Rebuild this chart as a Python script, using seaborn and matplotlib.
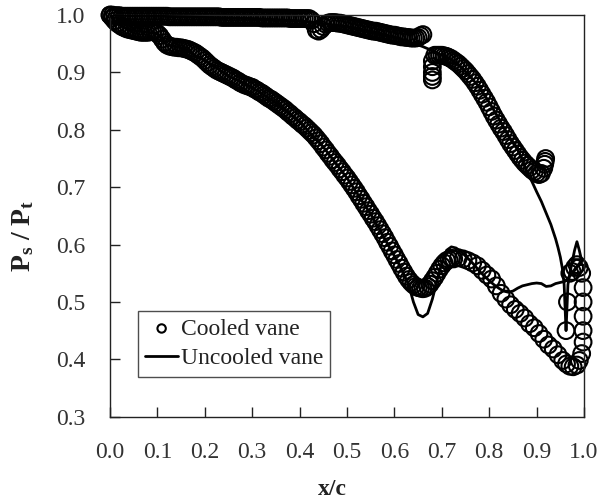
import matplotlib
matplotlib.use("Agg")
import matplotlib.pyplot as plt
import seaborn as sns
import pandas as pd

# ---------------- data ----------------
# Cooled vane, suction side (lower curve)
cooled_ss_x = [0.000, 0.005, 0.010, 0.015, 0.020, 0.025, 0.030, 0.035, 0.040, 0.045,
               0.050, 0.055, 0.060, 0.065, 0.070, 0.075, 0.080, 0.085, 0.090, 0.095,
               0.100, 0.105, 0.110, 0.115, 0.120, 0.125, 0.130, 0.135, 0.140, 0.145,
               0.150, 0.155, 0.160, 0.165, 0.170, 0.175, 0.180, 0.185, 0.190, 0.195,
               0.200, 0.205, 0.210, 0.215, 0.220, 0.225, 0.230, 0.235, 0.240, 0.245,
               0.250, 0.255, 0.260, 0.265, 0.270, 0.275, 0.280, 0.285, 0.290, 0.295,
               0.300, 0.305, 0.310, 0.315, 0.320, 0.325, 0.330, 0.335, 0.340, 0.345,
               0.350, 0.355, 0.360, 0.365, 0.370, 0.375, 0.380, 0.385, 0.390, 0.395,
               0.400, 0.405, 0.410, 0.415, 0.420, 0.425, 0.430, 0.435, 0.440, 0.445,
               0.450, 0.455, 0.460, 0.465, 0.470, 0.475, 0.480, 0.485, 0.490, 0.495,
               0.500, 0.505, 0.510, 0.515, 0.520, 0.525, 0.530, 0.535, 0.540, 0.545,
               0.550, 0.555, 0.560, 0.565, 0.570, 0.575, 0.580, 0.585, 0.590, 0.595,
               0.600, 0.605, 0.610, 0.615, 0.620, 0.625, 0.630, 0.635, 0.640, 0.645,
               0.650, 0.655, 0.660, 0.665, 0.670, 0.675, 0.680, 0.685, 0.690, 0.695,
               0.700, 0.705, 0.710, 0.715, 0.720,
               0.725, 0.735, 0.745, 0.755, 0.765, 0.775, 0.785, 0.795, 0.805, 0.815,
               0.825, 0.835, 0.845, 0.855, 0.865, 0.875, 0.885, 0.895, 0.905, 0.915,
               0.925, 0.935, 0.945, 0.955, 0.963, 0.970, 0.977, 0.985, 0.990, 0.995,
               0.998, 0.998, 0.998, 0.998, 0.998, 0.995, 0.990, 0.985, 0.980, 0.975,
               0.970, 0.965, 0.962]
cooled_ss_y = [1.000, 0.995, 0.990, 0.986, 0.983, 0.980, 0.978, 0.976, 0.975, 0.974,
               0.973, 0.972, 0.971, 0.970, 0.970, 0.970, 0.970, 0.971, 0.971, 0.970,
               0.968, 0.964, 0.958, 0.952, 0.948, 0.946, 0.945, 0.944, 0.944, 0.943,
               0.943, 0.942, 0.941, 0.940, 0.938, 0.936, 0.934, 0.931, 0.928, 0.925,
               0.921, 0.917, 0.913, 0.910, 0.907, 0.904, 0.902, 0.900, 0.898, 0.896,
               0.894, 0.892, 0.890, 0.887, 0.885, 0.882, 0.880, 0.878, 0.877, 0.875,
               0.874, 0.871, 0.869, 0.866, 0.864, 0.861, 0.858, 0.855, 0.853, 0.850,
               0.847, 0.844, 0.841, 0.838, 0.835, 0.831, 0.828, 0.824, 0.821, 0.817,
               0.814, 0.810, 0.807, 0.803, 0.799, 0.795, 0.791, 0.786, 0.781, 0.776,
               0.770, 0.765, 0.759, 0.754, 0.748, 0.743, 0.738, 0.732, 0.727, 0.721,
               0.716, 0.710, 0.704, 0.698, 0.692, 0.685, 0.679, 0.672, 0.666, 0.659,
               0.653, 0.646, 0.640, 0.633, 0.626, 0.619, 0.612, 0.604, 0.597, 0.589,
               0.582, 0.574, 0.567, 0.559, 0.552, 0.545, 0.539, 0.534, 0.530, 0.527,
               0.525, 0.524, 0.523, 0.524, 0.527, 0.531, 0.537, 0.543, 0.550, 0.557,
               0.563, 0.568, 0.572, 0.574, 0.576,
               0.575, 0.577, 0.575, 0.572, 0.568, 0.563, 0.555, 0.547, 0.540, 0.528,
               0.515, 0.505, 0.495, 0.487, 0.480, 0.472, 0.462, 0.455, 0.445, 0.435,
               0.425, 0.418, 0.408, 0.398, 0.392, 0.388, 0.387, 0.390, 0.398, 0.410,
               0.430, 0.450, 0.475, 0.500, 0.525, 0.550, 0.560, 0.565, 0.560, 0.553,
               0.550, 0.500, 0.450]

# Cooled vane, pressure side (upper curve)
cooled_ps_x = [0.000, 0.005, 0.010, 0.015, 0.020, 0.025, 0.030, 0.035, 0.040, 0.045,
               0.050, 0.055, 0.060, 0.065, 0.070, 0.075, 0.080, 0.085, 0.090, 0.095,
               0.100, 0.105, 0.110, 0.115, 0.120, 0.125, 0.130, 0.135, 0.140, 0.145,
               0.150, 0.155, 0.160, 0.165, 0.170, 0.175, 0.180, 0.185, 0.190, 0.195,
               0.200, 0.205, 0.210, 0.215, 0.220, 0.225, 0.230, 0.235, 0.240, 0.245,
               0.250, 0.255, 0.260, 0.265, 0.270, 0.275, 0.280, 0.285, 0.290, 0.295,
               0.300, 0.305, 0.310, 0.315, 0.320, 0.325, 0.330, 0.335, 0.340, 0.345,
               0.350, 0.355, 0.360, 0.365, 0.370, 0.375, 0.380, 0.385, 0.390, 0.395,
               0.400, 0.405, 0.410, 0.415, 0.420, 0.425, 0.430, 0.435, 0.440, 0.445,
               0.450, 0.455, 0.460, 0.465, 0.470, 0.475, 0.480, 0.485, 0.490, 0.495,
               0.500, 0.505, 0.510, 0.515, 0.520, 0.525, 0.530, 0.535, 0.540, 0.545,
               0.550, 0.555, 0.560, 0.565, 0.570, 0.575, 0.580, 0.585, 0.590, 0.595,
               0.600, 0.605, 0.610, 0.615, 0.620, 0.625, 0.630, 0.635, 0.640, 0.645,
               0.650, 0.655, 0.660,
               0.680, 0.680, 0.680, 0.680, 0.680,
               0.685, 0.690, 0.695, 0.700, 0.705, 0.710, 0.715, 0.720, 0.725, 0.730,
               0.735, 0.740, 0.745, 0.750, 0.755, 0.760, 0.765, 0.770, 0.775, 0.780,
               0.785, 0.790, 0.795, 0.800, 0.805, 0.810, 0.815, 0.820, 0.825, 0.830,
               0.835, 0.840, 0.845, 0.850, 0.855, 0.860, 0.865, 0.870, 0.875, 0.880,
               0.885, 0.890, 0.895, 0.900, 0.905, 0.910, 0.915, 0.917, 0.918, 0.919]
cooled_ps_y = [1.000, 1.000, 0.999, 0.999, 0.999, 0.998, 0.998, 0.998, 0.998, 0.998,
               0.998, 0.998, 0.998, 0.998, 0.998, 0.998, 0.998, 0.998, 0.998, 0.998,
               0.998, 0.998, 0.998, 0.998, 0.998, 0.997, 0.997, 0.997, 0.997, 0.997,
               0.997, 0.997, 0.997, 0.997, 0.997, 0.997, 0.997, 0.997, 0.997, 0.997,
               0.997, 0.997, 0.997, 0.997, 0.997, 0.997, 0.997, 0.996, 0.996, 0.996,
               0.996, 0.996, 0.996, 0.996, 0.996, 0.996, 0.996, 0.996, 0.996, 0.996,
               0.996, 0.996, 0.996, 0.996, 0.995, 0.995, 0.995, 0.995, 0.995, 0.995,
               0.995, 0.995, 0.995, 0.995, 0.995, 0.995, 0.994, 0.994, 0.994, 0.994,
               0.994, 0.994, 0.994, 0.994, 0.994, 0.991, 0.985, 0.974, 0.972, 0.975,
               0.980, 0.984, 0.986, 0.987, 0.987, 0.987, 0.986, 0.986, 0.985, 0.984,
               0.983, 0.982, 0.981, 0.980, 0.979, 0.978, 0.977, 0.976, 0.975, 0.974,
               0.973, 0.972, 0.972, 0.971, 0.970, 0.969, 0.968, 0.967, 0.966, 0.965,
               0.965, 0.964, 0.963, 0.962, 0.962, 0.961, 0.961, 0.960, 0.960, 0.960,
               0.961, 0.964, 0.966,
               0.920, 0.910, 0.900, 0.893, 0.887,
               0.930, 0.930, 0.930, 0.930, 0.929, 0.928, 0.926, 0.924, 0.921, 0.918,
               0.915, 0.911, 0.907, 0.903, 0.898, 0.893, 0.888, 0.882, 0.876, 0.869,
               0.862, 0.855, 0.848, 0.840, 0.832, 0.824, 0.817, 0.810, 0.803, 0.797,
               0.790, 0.783, 0.776, 0.770, 0.764, 0.758, 0.752, 0.747, 0.742, 0.738,
               0.734, 0.730, 0.727, 0.724, 0.722, 0.724, 0.733, 0.740, 0.745, 0.750]

# Uncooled vane, pressure side (upper branch)
uncooled_ps_x = [0.000, 0.100, 0.200, 0.300, 0.400, 0.500, 0.550, 0.600, 0.650, 0.660,
                 0.680, 0.700, 0.720, 0.740, 0.760, 0.780, 0.800, 0.820, 0.840, 0.860,
                 0.870, 0.880, 0.890, 0.900, 0.910, 0.920, 0.930, 0.940, 0.945, 0.950,
                 0.955, 0.958, 0.960, 0.962, 0.964, 0.966, 0.970, 0.975, 0.980, 0.985,
                 0.990, 0.995]
uncooled_ps_y = [1.000, 0.998, 0.996, 0.994, 0.990, 0.980, 0.972, 0.962, 0.948, 0.945,
                 0.938, 0.930, 0.922, 0.910, 0.893, 0.873, 0.848, 0.820, 0.790, 0.765,
                 0.748, 0.725, 0.710, 0.692, 0.675, 0.655, 0.635, 0.610, 0.595, 0.578,
                 0.555, 0.530, 0.490, 0.450, 0.490, 0.530, 0.550, 0.570, 0.590, 0.605,
                 0.590, 0.572]

# Uncooled vane, suction side (lower branch)
uncooled_ss_x = [0.000, 0.010, 0.030, 0.050, 0.080, 0.100, 0.120, 0.150, 0.200, 0.250,
                 0.300, 0.350, 0.400, 0.450, 0.500, 0.550, 0.600, 0.610, 0.620, 0.630,
                 0.640, 0.650, 0.660, 0.670, 0.680, 0.690, 0.700, 0.710, 0.720, 0.730,
                 0.740, 0.750, 0.760, 0.770, 0.780, 0.790, 0.800, 0.810, 0.820, 0.830,
                 0.840, 0.850, 0.860, 0.870, 0.880, 0.890, 0.900, 0.910, 0.920, 0.930,
                 0.940, 0.950, 0.960, 0.970, 0.980, 0.990, 0.995]
uncooled_ss_y = [1.000, 0.990, 0.978, 0.973, 0.970, 0.968, 0.948, 0.943, 0.921, 0.894,
                 0.874, 0.847, 0.814, 0.770, 0.716, 0.653, 0.580, 0.565, 0.548, 0.530,
                 0.500, 0.478, 0.474, 0.480, 0.505, 0.538, 0.568, 0.590, 0.596, 0.594,
                 0.588, 0.580, 0.572, 0.563, 0.553, 0.545, 0.537, 0.530, 0.524, 0.519,
                 0.517, 0.519, 0.524, 0.528, 0.530, 0.532, 0.533, 0.532, 0.527, 0.528,
                 0.532, 0.534, 0.536, 0.545, 0.555, 0.567, 0.570]

x_ticks = [0.0, 0.1, 0.2, 0.3, 0.4, 0.5, 0.6, 0.7, 0.8, 0.9, 1.0]
y_ticks = [0.3, 0.4, 0.5, 0.6, 0.7, 0.8, 0.9, 1.0]

# ---------------- tables ----------------
cooled = pd.DataFrame({"x": cooled_ss_x + cooled_ps_x,
                       "y": cooled_ss_y + cooled_ps_y})
unc_ps = pd.DataFrame({"x": uncooled_ps_x, "y": uncooled_ps_y})
unc_ss = pd.DataFrame({"x": uncooled_ss_x, "y": uncooled_ss_y})

# ---------------- style ----------------
sns.set_theme(style="white")
plt.rcParams["font.family"] = ["Liberation Serif", "DejaVu Serif"]
plt.rcParams["mathtext.fontset"] = "custom"
plt.rcParams["mathtext.rm"] = "Liberation Serif"
plt.rcParams["mathtext.bf"] = "Liberation Serif:bold"
plt.rcParams["mathtext.it"] = "Liberation Serif:italic"

fig = plt.figure(figsize=(6.08, 5.03), dpi=100)
ax = fig.add_axes([0.181, 0.1716, 0.7796, 0.7984])

sns.scatterplot(data=cooled, x="x", y="y", ax=ax, marker="o", s=145,
                facecolor="none", edgecolor="black", linewidth=1.5,
                label="Cooled vane", clip_on=False, zorder=2)
sns.lineplot(data=unc_ps, x="x", y="y", estimator=None, sort=False, ax=ax,
             color="black", lw=2.0, label="Uncooled vane", zorder=3)
sns.lineplot(data=unc_ss, x="x", y="y", estimator=None, sort=False, ax=ax,
             color="black", lw=2.0, label="_nolegend_", zorder=3)

ax.set_xlim(0.0, 1.0)
ax.set_ylim(0.3, 1.0)
ax.set_xticks(x_ticks)
ax.set_yticks(y_ticks)
ax.set_xticklabels([f"{t:.1f}" for t in x_ticks])
ax.set_yticklabels([f"{t:.1f}" for t in y_ticks])

ax.tick_params(axis="both", which="both", direction="in", length=7, width=1,
               color="#222222", labelsize=17, labelcolor="#333333",
               bottom=True, left=True, top=False, right=False, pad=18)
for sp in ax.spines.values():
    sp.set_visible(True)
    sp.set_color("#222222")
    sp.set_linewidth(1.0)

ax.set_xlabel("x/c", fontsize=17, fontweight="bold", color="#222222")
ax.xaxis.set_label_coords(0.468, -0.155)
ax.set_ylabel(r"$\mathbf{P_s\ /\ P_t}$", fontsize=20, color="#222222")
ax.yaxis.set_label_coords(-0.155, 0.45)

leg = ax.legend(loc="upper left", bbox_to_anchor=(0.059, 0.263),
                borderaxespad=0, frameon=True, fancybox=False, shadow=False,
                fontsize=17, markerscale=0.5, handlelength=1.4,
                handletextpad=0.1, labelspacing=0.35, borderpad=0.3)
leg.get_frame().set_edgecolor("#222222")
leg.get_frame().set_linewidth(1.0)
for t in leg.get_texts():
    t.set_color("#222222")

fig.savefig("out.png", dpi=100, facecolor="white")
